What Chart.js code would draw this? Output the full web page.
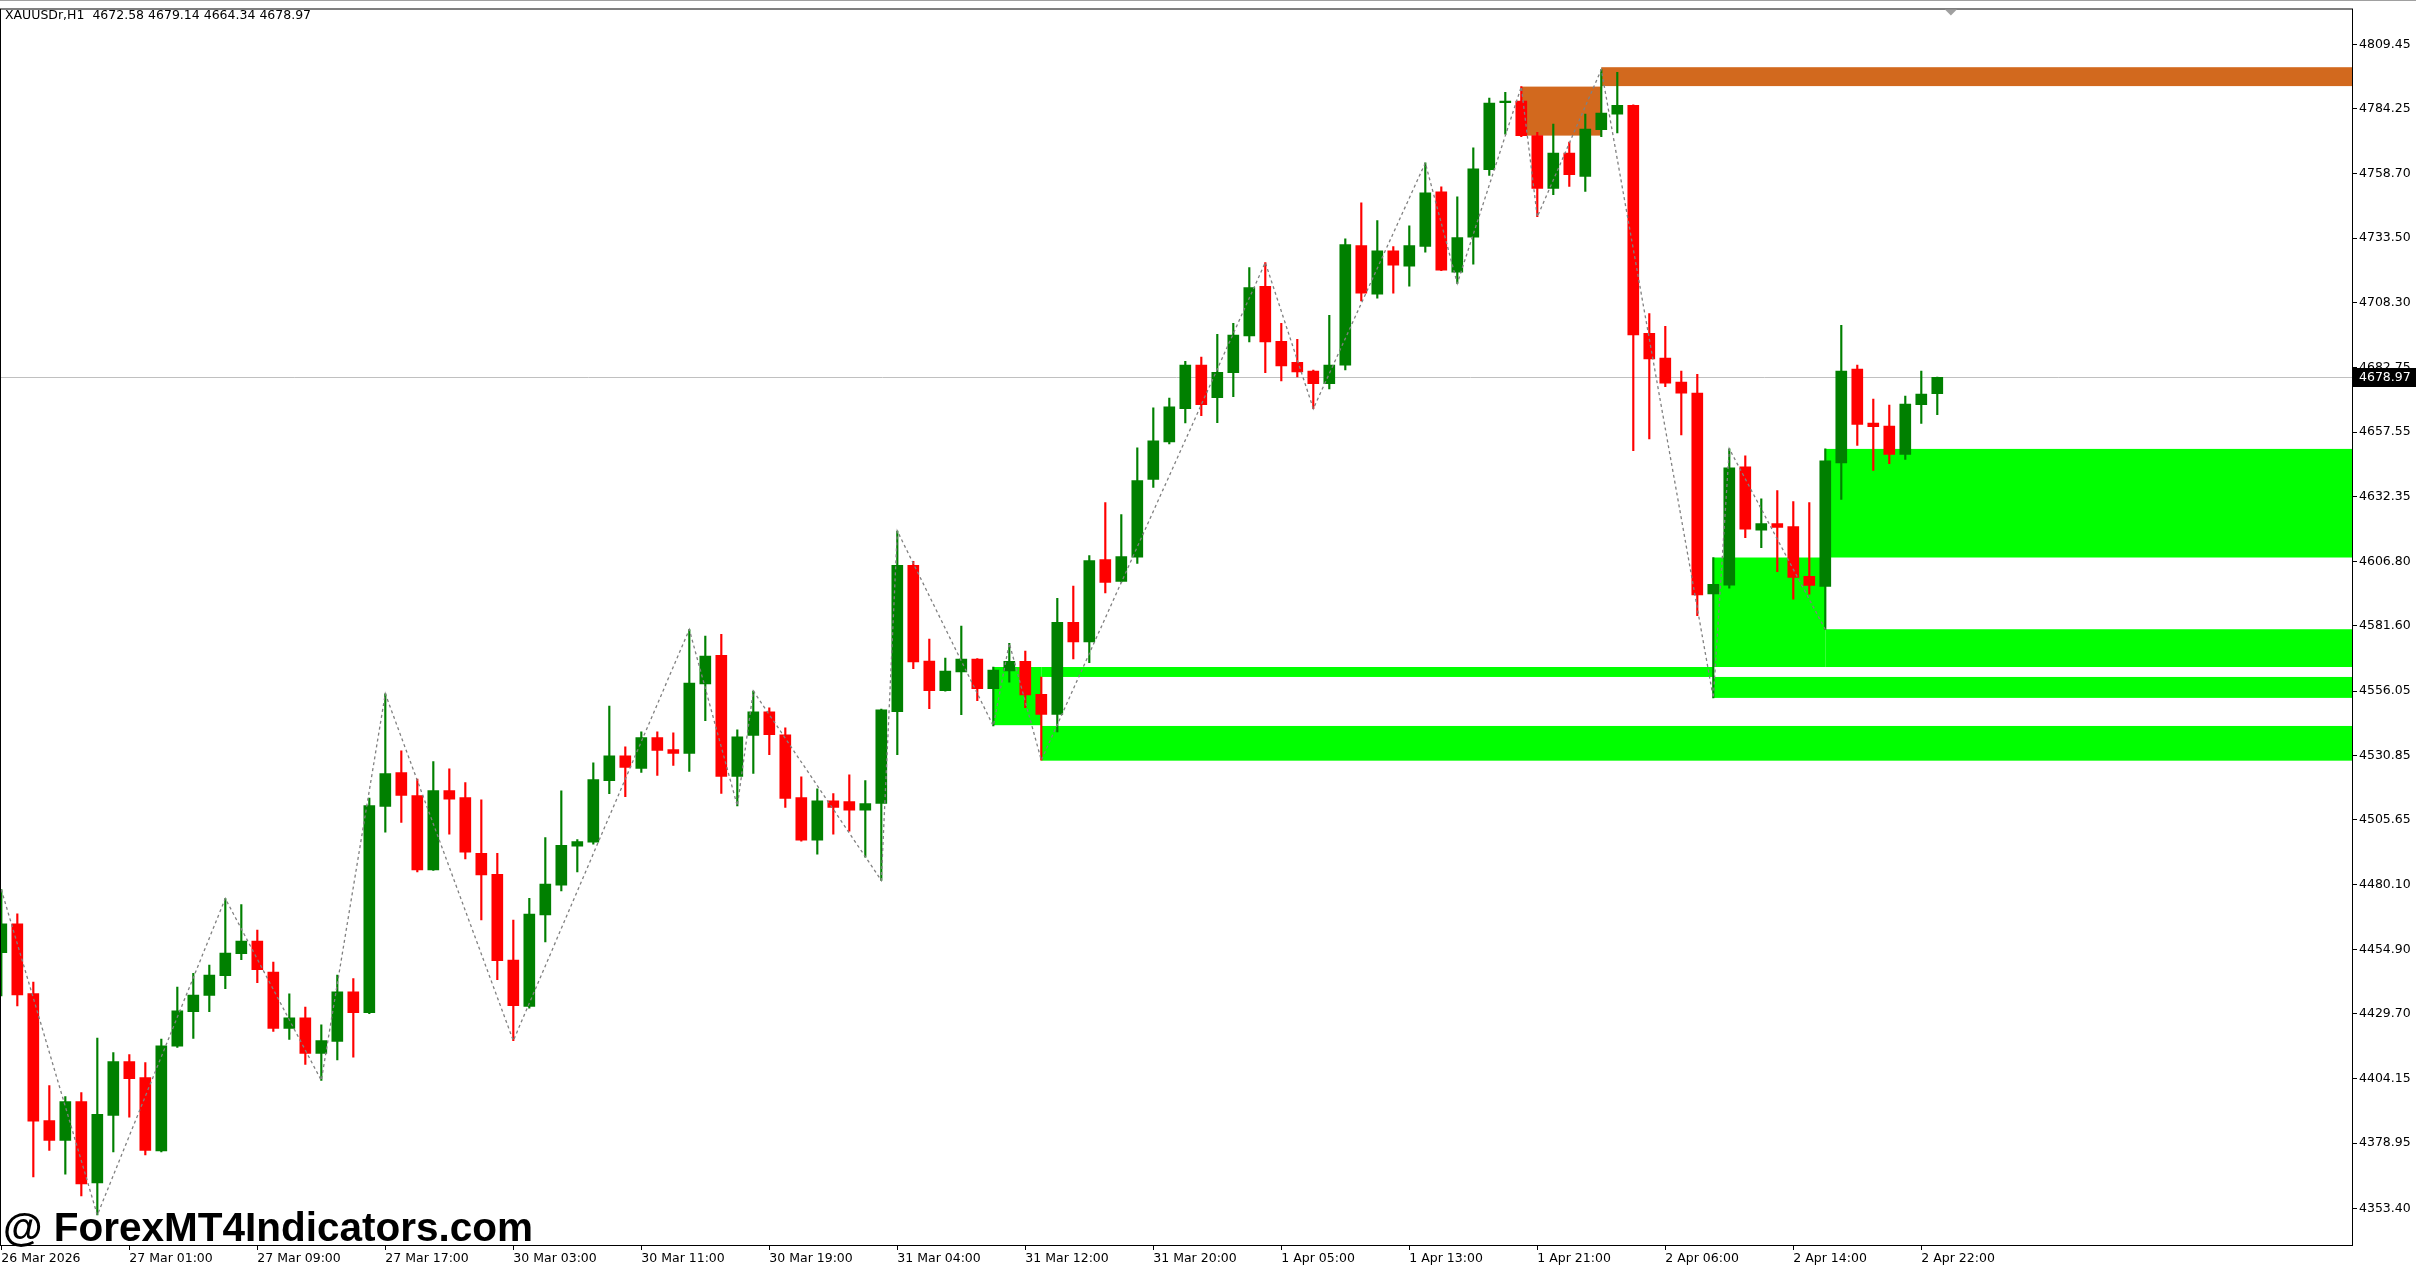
<!DOCTYPE html>
<html>
<head>
<meta charset="utf-8">
<title>XAUUSDr,H1</title>
<script src="https://cdn.jsdelivr.net/npm/chart.js@4.4.1/dist/chart.umd.min.js"></script>
<style>
  html, body { margin: 0; padding: 0; background: #fff; }
  #wrap { position: relative; width: 2416px; height: 1270px; overflow: hidden; }
  #chart { position: absolute; left: 0; top: 0; }
  #header { position: absolute; left: 5px; top: 7px; font: 12.5px/15px "DejaVu Sans"; color: #000; white-space: pre; }
  #mark { position: absolute; left: 3px; top: 1207px; font: bold 40.5px/40.5px "Liberation Sans"; color: #000; white-space: pre; }
</style>
</head>
<body>
<div id="wrap">
  <canvas id="chart" width="2416" height="1270"></canvas>
  <div id="header">XAUUSDr,H1  4672.58 4679.14 4664.34 4678.97</div>
  <div id="mark">@ ForexMT4Indicators.com</div>
</div>
<script>
// H1 candles, one per bar index (26 Mar 16:00 .. 2 Apr 23:00)
const opens = [
  4453.6, 4464.9, 4437.5, 4387.8, 4380.0, 4395.2, 4363.4, 4389.8, 4410.9, 4404.6,
  4375.9, 4416.9, 4430.5, 4436.8, 4444.6, 4453.2, 4458.1, 4446.0, 4423.9, 4428.0,
  4414.1, 4418.8, 4438.2, 4430.1, 4510.9, 4524.1, 4515.1, 4486.0, 4517.1, 4514.3,
  4492.5, 4484.3, 4450.7, 4432.5, 4468.4, 4480.0, 4495.3, 4496.9, 4521.0, 4530.7,
  4525.8, 4537.8, 4533.1, 4531.6, 4558.9, 4570.1, 4522.6, 4538.7, 4547.9, 4538.9,
  4514.3, 4497.7, 4513.1, 4512.8, 4509.4, 4512.1, 4548.0, 4605.3, 4567.8, 4556.2,
  4563.6, 4568.6, 4557.0, 4564.0, 4567.7, 4554.8, 4546.9, 4583.0, 4575.3, 4607.6,
  4599.0, 4608.5, 4639.0, 4653.7, 4666.7, 4683.8, 4671.0, 4680.8, 4695.2, 4714.6,
  4693.1, 4684.9, 4681.4, 4676.5, 4683.8, 4730.6, 4711.6, 4728.6, 4722.5, 4730.3,
  4751.7, 4720.2, 4733.9, 4760.4, 4786.6, 4787.2, 4773.7, 4753.0, 4766.9, 4757.7,
  4776.0, 4782.1, 4785.6, 4696.2, 4686.5, 4677.1, 4672.8, 4594.1, 4597.6, 4643.9,
  4619.1, 4621.7, 4620.5, 4601.0, 4597.1, 4645.5, 4682.2, 4661.1, 4659.9, 4648.8,
  4668.3, 4672.58
];
const highs = [
  4478.3, 4468.8, 4442.1, 4401.5, 4397.2, 4398.8, 4420.1, 4414.4, 4413.6, 4410.5,
  4419.7, 4440.1, 4445.5, 4448.7, 4474.8, 4472.4, 4462.4, 4449.9, 4437.4, 4432.3,
  4425.3, 4444.8, 4443.4, 4514.1, 4555.0, 4532.7, 4521.6, 4528.4, 4525.6, 4520.2,
  4513.5, 4492.5, 4466.3, 4474.9, 4498.7, 4517.0, 4497.9, 4528.0, 4550.2, 4534.2,
  4540.1, 4540.1, 4539.7, 4580.2, 4577.6, 4578.3, 4540.9, 4556.1, 4549.5, 4541.7,
  4522.5, 4517.8, 4515.9, 4523.3, 4521.0, 4549.0, 4618.8, 4606.9, 4576.4, 4569.0,
  4581.5, 4568.8, 4565.5, 4574.8, 4571.7, 4561.6, 4592.4, 4597.2, 4609.2, 4629.9,
  4625.2, 4651.4, 4667.0, 4670.9, 4685.3, 4686.9, 4695.8, 4700.2, 4722.0, 4724.0,
  4700.2, 4693.9, 4681.8, 4703.3, 4733.3, 4747.4, 4740.4, 4730.2, 4738.4, 4763.0,
  4753.6, 4749.7, 4768.9, 4788.4, 4790.7, 4792.9, 4775.0, 4778.2, 4771.2, 4782.1,
  4799.6, 4798.5, 4785.8, 4704.0, 4699.0, 4681.4, 4680.2, 4608.4, 4651.0, 4648.2,
  4631.4, 4634.6, 4630.3, 4629.9, 4651.0, 4699.4, 4683.8, 4670.5, 4668.1, 4671.6,
  4681.4, 4679.14
];
const lows = [
  4436.6, 4432.7, 4365.7, 4376.1, 4366.8, 4358.3, 4350.8, 4375.5, 4389.1, 4374.3,
  4375.5, 4416.5, 4420.0, 4430.5, 4439.5, 4450.8, 4441.8, 4422.7, 4419.6, 4409.8,
  4403.5, 4411.6, 4412.6, 4429.7, 4500.8, 4504.6, 4485.2, 4485.8, 4500.0, 4490.3,
  4466.4, 4443.0, 4419.1, 4431.8, 4457.8, 4477.8, 4485.2, 4496.1, 4515.9, 4514.7,
  4524.2, 4523.0, 4526.9, 4524.6, 4544.5, 4516.0, 4511.1, 4523.8, 4531.2, 4510.5,
  4497.3, 4492.2, 4500.0, 4501.2, 4491.0, 4481.9, 4531.2, 4564.8, 4549.2, 4556.0,
  4546.8, 4552.3, 4542.4, 4559.6, 4549.6, 4529.0, 4540.1, 4568.7, 4567.2, 4594.5,
  4598.8, 4606.1, 4635.9, 4652.9, 4661.1, 4664.0, 4661.2, 4671.4, 4692.9, 4680.8,
  4677.6, 4679.2, 4666.7, 4674.5, 4681.9, 4708.9, 4710.0, 4712.0, 4714.7, 4728.0,
  4720.8, 4715.8, 4723.3, 4758.1, 4774.3, 4773.3, 4741.9, 4750.6, 4753.8, 4751.8,
  4773.3, 4774.8, 4650.3, 4654.9, 4675.3, 4656.4, 4585.6, 4553.4, 4596.4, 4616.2,
  4612.3, 4602.9, 4592.1, 4594.0, 4580.2, 4631.2, 4652.3, 4642.5, 4645.2, 4646.8,
  4660.9, 4664.34
];
const closes = [
  4464.9, 4437.0, 4387.6, 4380.0, 4395.2, 4363.0, 4390.2, 4410.9, 4404.2, 4376.1,
  4417.1, 4430.8, 4437.0, 4444.8, 4453.4, 4458.1, 4446.9, 4423.9, 4428.0, 4414.1,
  4419.1, 4438.2, 4430.1, 4511.2, 4523.7, 4515.2, 4486.0, 4517.1, 4513.7, 4493.0,
  4484.0, 4450.4, 4432.8, 4468.7, 4480.4, 4495.6, 4497.1, 4521.4, 4530.7, 4526.2,
  4537.8, 4532.8, 4531.6, 4559.2, 4569.8, 4522.6, 4538.1, 4547.9, 4539.0, 4514.0,
  4497.7, 4513.1, 4510.5, 4509.4, 4512.0, 4548.7, 4605.3, 4567.5, 4556.2, 4563.9,
  4568.6, 4557.0, 4564.3, 4567.7, 4554.6, 4546.9, 4583.0, 4575.3, 4607.2, 4598.6,
  4608.8, 4638.5, 4654.1, 4667.4, 4683.8, 4668.3, 4681.0, 4695.5, 4714.2, 4692.9,
  4683.5, 4681.1, 4676.5, 4683.8, 4731.0, 4712.0, 4728.6, 4722.9, 4730.6, 4751.3,
  4721.0, 4733.7, 4760.7, 4786.4, 4787.1, 4773.7, 4753.0, 4766.9, 4758.4, 4776.3,
  4782.5, 4785.6, 4695.6, 4686.2, 4676.7, 4672.8, 4593.7, 4597.9, 4643.5, 4619.5,
  4621.7, 4620.2, 4600.6, 4597.5, 4646.3, 4681.4, 4660.5, 4659.7, 4648.8, 4668.5,
  4672.4, 4678.97
];

// time axis labels, one every 8 bars starting at bar 0
const timeLabels = [
  '26 Mar 2026', '27 Mar 01:00', '27 Mar 09:00', '27 Mar 17:00', '30 Mar 03:00',
  '30 Mar 11:00', '30 Mar 19:00', '31 Mar 04:00', '31 Mar 12:00', '31 Mar 20:00',
  '1 Apr 05:00', '1 Apr 13:00', '1 Apr 21:00', '2 Apr 06:00', '2 Apr 14:00', '2 Apr 22:00'
];
const labelEvery = 8;

const priceTicks = [
  4809.45, 4784.25, 4758.70, 4733.50, 4708.30, 4682.75, 4657.55, 4632.35, 4606.80, 4581.60,
  4556.05, 4530.85, 4505.65, 4480.10, 4454.90, 4429.70, 4404.15, 4378.95, 4353.40
];
const lastPrice = 4678.97;

// zigzag swing points
const swingBars = [0, 6, 14, 20, 24, 32, 43, 46, 47, 55, 56, 62, 63, 65, 79, 82, 89, 91, 95, 96, 100, 107, 108, 114];
const swingPrices = [
  4478.3, 4350.8, 4474.8, 4403.5, 4555.0, 4419.1, 4580.2, 4511.1, 4556.1, 4481.9,
  4618.8, 4542.4, 4574.8, 4529.0, 4724.0, 4666.7, 4763.0, 4715.8, 4792.9, 4741.9,
  4799.6, 4553.4, 4651.0, 4580.2
];

// supply / demand zones (end null = runs to the right edge)
const zoneFrom   = [62, 65, 65, 107, 107, 114, 114, 95, 100];
const zoneTo     = [65, 107, null, 114, null, null, null, 100, null];
const zoneTop    = [4565.5, 4565.5, 4542.4, 4608.4, 4561.6, 4580.3, 4650.95, 4792.9, 4800.5];
const zoneBottom = [4542.7, 4561.6, 4528.8, 4565.5, 4553.4, 4565.5, 4608.4, 4773.7, 4793.1];
const zoneType   = ['demand', 'demand', 'demand', 'demand', 'demand', 'demand', 'demand', 'supply', 'supply'];

const BULL = '#008000';
const BEAR = '#ff0000';
const AXIS_FONT = { family: 'DejaVu Sans', size: 12.5 };

const barIdx = opens.map((_, i) => i);
const candleColors = barIdx.map(i => closes[i] >= opens[i] ? BULL : BEAR);

// zones + last price line under the candles, frame and price tag on top
const mt4Decor = {
  id: 'mt4Decor',
  beforeDatasetsDraw(chart) {
    const { ctx, chartArea: a, scales: { x, y } } = chart;
    ctx.save();
    zoneFrom.forEach((from, k) => {
      const x0 = x.getPixelForValue(from);
      const x1 = zoneTo[k] === null ? a.right : x.getPixelForValue(zoneTo[k]);
      const y0 = y.getPixelForValue(zoneTop[k]);
      const y1 = y.getPixelForValue(zoneBottom[k]);
      ctx.fillStyle = zoneType[k] === 'supply' ? '#d2691e' : '#00ff00';
      ctx.fillRect(x0, y0, x1 - x0, y1 - y0);
    });
    const py = Math.round(y.getPixelForValue(lastPrice)) + 0.5;
    ctx.strokeStyle = '#c0c0c0';
    ctx.lineWidth = 1;
    ctx.beginPath();
    ctx.moveTo(a.left, py);
    ctx.lineTo(a.right, py);
    ctx.stroke();
    ctx.restore();
  },
  afterDraw(chart) {
    const { ctx, chartArea: a, scales: { x, y } } = chart;
    ctx.save();
    // window edge + chart frame
    ctx.fillStyle = '#a0a0a0';
    ctx.fillRect(0, 0, chart.width, 1);
    ctx.strokeStyle = '#000';
    ctx.lineWidth = 1;
    ctx.strokeRect(a.left - 0.5, a.top - 0.5, a.right - a.left + 1, a.bottom - a.top + 1);
    // chart shift marker
    const sx = x.getPixelForValue(121.85);
    ctx.fillStyle = '#a0a0a0';
    ctx.beginPath();
    ctx.moveTo(sx - 6, a.top);
    ctx.lineTo(sx + 6, a.top);
    ctx.lineTo(sx, a.top + 6);
    ctx.closePath();
    ctx.fill();
    // last price tag
    const py = Math.round(y.getPixelForValue(lastPrice));
    ctx.fillStyle = '#000';
    ctx.fillRect(a.right + 1, py - 9, chart.width - a.right - 1, 19);
    ctx.fillStyle = '#fff';
    ctx.font = '12.5px "DejaVu Sans"';
    ctx.textBaseline = 'middle';
    ctx.textAlign = 'left';
    ctx.fillText(lastPrice.toFixed(2), a.right + 7, py + 1);
    ctx.restore();
  }
};

new Chart(document.getElementById('chart'), {
  type: 'bar',
  data: {
    datasets: [
      {
        type: 'line',
        data: swingBars.map((b, k) => ({ x: b, y: swingPrices[k] })),
        borderColor: '#808080',
        borderWidth: 1.3,
        borderDash: [3, 3],
        pointRadius: 0,
        tension: 0,
        fill: false,
        order: 0
      },
      {
        data: barIdx.map(i => ({ x: i, y: [opens[i], closes[i]] })),
        backgroundColor: candleColors,
        barThickness: 11,
        minBarLength: 1.5,
        grouped: false,
        order: 1
      },
      {
        data: barIdx.map(i => ({ x: i, y: [lows[i], highs[i]] })),
        backgroundColor: candleColors,
        barThickness: 1.5,
        grouped: false,
        order: 2
      }
    ]
  },
  options: {
    responsive: false,
    animation: false,
    devicePixelRatio: 1,
    events: [],
    layout: { padding: { left: 1, top: 5, right: 0, bottom: 0 } },
    plugins: { legend: { display: false }, tooltip: { enabled: false } },
    scales: {
      x: {
        type: 'linear',
        min: -0.02,
        max: 146.92,
        offset: false,
        border: { display: false },
        grid: { drawOnChartArea: false, drawTicks: true, tickLength: 5, color: '#000', offset: false },
        ticks: {
          autoSkip: false, maxRotation: 0, minRotation: 0, align: 'start', padding: 1,
          color: '#000', font: AXIS_FONT,
          callback: (v, idx) => timeLabels[idx]
        },
        afterBuildTicks: s => { s.ticks = timeLabels.map((_, k) => ({ value: k * labelEvery })); },
        afterFit: s => { s.height = 25; }
      },
      y: {
        type: 'linear',
        position: 'right',
        min: 4339.04,
        max: 4823.11,
        border: { display: false },
        grid: { drawOnChartArea: false, drawTicks: true, tickLength: 5, color: '#000' },
        ticks: { padding: 2, color: '#000', font: AXIS_FONT, callback: v => v.toFixed(2) },
        afterBuildTicks: s => { s.ticks = priceTicks.map(v => ({ value: v })); },
        afterFit: s => { s.width = 64; }
      }
    }
  },
  plugins: [mt4Decor]
});
</script>
</body>
</html>
